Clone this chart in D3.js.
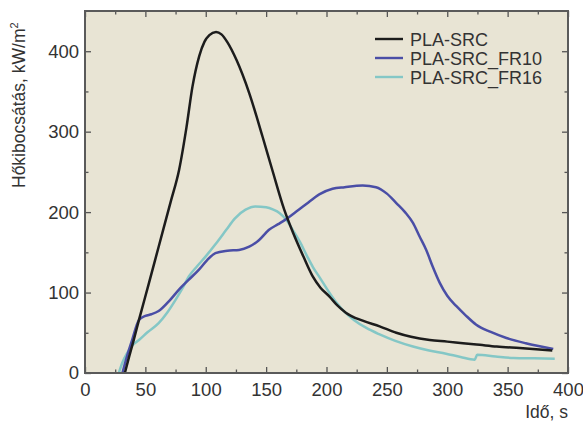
<!DOCTYPE html>
<html><head><meta charset="utf-8">
<script src="https://cdn.jsdelivr.net/npm/d3@7"></script>
<style>body{margin:0;background:#fff;}svg{display:block;font-family:"Liberation Sans",Arial,sans-serif;}</style>
</head><body><svg id="c" width="583" height="424"></svg>
<script>
const seriesNames = ["PLA-SRC", "PLA-SRC_FR10", "PLA-SRC_FR16"];
const seriesColors = ["#1c1c1c", "#4a4ea6", "#84c7c6"];
const xTicks = [0, 50, 100, 150, 200, 250, 300, 350, 400];
const yTicks = [0, 100, 200, 300, 400];
const srcX = [33, 36.5, 40, 44.7, 53, 61, 71, 78, 84, 89, 94.6, 99, 103, 108.5, 113, 118, 125.5, 136, 147, 155, 165, 172.4, 180.8, 188.6, 195, 202.5, 209, 216, 230, 244, 257.8, 270, 285.5, 300, 313, 327, 341, 360, 387];
const srcY = [0, 20, 39, 66, 112, 157, 213, 253, 305, 356, 394, 412, 420, 424, 421, 411, 389, 348, 294, 253, 203, 174, 145, 120, 106, 95, 84, 75, 65, 58, 50, 45, 41, 39, 37, 35, 33, 31, 28];
const fr10X = [31, 35, 39, 44.7, 50, 55, 61, 70, 78, 86, 94.4, 101, 108, 118, 127.6, 136, 144, 152.4, 160, 166, 177, 185, 194, 205, 215, 230, 241, 250, 258, 265, 271.6, 277, 282.6, 288, 293.8, 300, 307.6, 315, 324, 336, 349, 365, 387.8];
const fr10Y = [0, 22, 41, 66, 71, 73, 77, 90, 104, 116, 128.5, 140, 149, 152, 153, 157, 165, 178, 185, 190.7, 203, 212, 222, 229, 231, 233, 231, 223, 211, 200, 186.6, 170, 153, 132, 112, 96, 83, 72, 60, 51, 43.5, 37, 30];
const fr16X = [28, 31, 35, 39, 44.7, 52, 61, 68, 75, 81, 86, 93, 100, 108, 117, 124, 133, 141, 150, 156, 161, 167, 172, 178, 184, 189, 194.7, 201, 208.5, 215, 222.7, 233, 244, 257, 271.6, 285, 299, 311, 322.8, 324.8, 340, 355, 372, 389];
const fr16Y = [0, 13, 25, 34, 41, 51, 62, 75, 91, 106, 120, 133, 145, 160, 178, 192, 203, 207, 206, 203, 199, 190, 178, 163, 145, 131, 118, 103, 87, 76, 66, 56, 48, 40, 33, 28, 24, 20, 16.6, 22.8, 20.5, 18.6, 18.2, 17.8];

const svg = d3.select("#c");
const L = 85, R = 568, T = 11, B = 373;
const x = d3.scaleLinear().domain([0, 400]).range([L, R]);
const y = d3.scaleLinear().domain([0, 450]).range([B, T]);
const textCol = "#333";

svg.append("rect").attr("x", L).attr("y", T).attr("width", R - L).attr("height", B - T).attr("fill", "#e8e4d4");

const axisStyle = g => {
  g.select(".domain").remove();
  g.selectAll("line").attr("stroke", "#555").attr("stroke-width", 1.3);
  g.selectAll("text").attr("fill", textCol).style("font-size", "18.5px");
};
const minorX = d3.range(25, 400, 50);
const minorY = d3.range(50, 450, 100);

svg.append("g").attr("transform", `translate(0,${B})`)
  .call(d3.axisBottom(x).tickValues(xTicks).tickSize(-6).tickPadding(10).tickFormat(d3.format("d")))
  .call(axisStyle);
svg.append("g").attr("transform", `translate(0,${B})`)
  .call(d3.axisBottom(x).tickValues(minorX).tickSize(-3.5).tickFormat(""))
  .call(axisStyle);
svg.append("g").attr("transform", `translate(0,${T})`)
  .call(d3.axisTop(x).tickValues(xTicks).tickSize(-6).tickFormat(""))
  .call(axisStyle);
svg.append("g").attr("transform", `translate(0,${T})`)
  .call(d3.axisTop(x).tickValues(minorX).tickSize(-3.5).tickFormat(""))
  .call(axisStyle);
svg.append("g").attr("transform", `translate(${L},0)`)
  .call(d3.axisLeft(y).tickValues(yTicks).tickSize(-6).tickPadding(6).tickFormat(d3.format("d")))
  .call(axisStyle);
svg.append("g").attr("transform", `translate(${L},0)`)
  .call(d3.axisLeft(y).tickValues(minorY).tickSize(-3.5).tickFormat(""))
  .call(axisStyle);
svg.append("g").attr("transform", `translate(${R},0)`)
  .call(d3.axisRight(y).tickValues(yTicks).tickSize(-6).tickFormat(""))
  .call(axisStyle);
svg.append("g").attr("transform", `translate(${R},0)`)
  .call(d3.axisRight(y).tickValues(minorY).tickSize(-3.5).tickFormat(""))
  .call(axisStyle);

const line = d3.line().x(d => x(d[0])).y(d => y(d[1])).curve(d3.curveMonotoneX);
const data = [d3.zip(srcX, srcY), d3.zip(fr10X, fr10Y), d3.zip(fr16X, fr16Y)];
svg.append("clipPath").attr("id", "pc").append("rect").attr("x", L).attr("y", T).attr("width", R - L).attr("height", B - T);
[2, 1, 0].forEach(i => {
  svg.append("path").datum(data[i]).attr("d", line).attr("fill", "none")
    .attr("stroke", seriesColors[i]).attr("stroke-width", 2.5).attr("clip-path", "url(#pc)");
});

svg.append("rect").attr("x", L).attr("y", T).attr("width", R - L).attr("height", B - T)
  .attr("fill", "none").attr("stroke", "#5a5a5a").attr("stroke-width", 2);

const lg = svg.append("g");
seriesNames.forEach((n, i) => {
  const yy = 39 + i * 19;
  lg.append("line").attr("x1", 375).attr("x2", 403).attr("y1", yy).attr("y2", yy)
    .attr("stroke", seriesColors[i]).attr("stroke-width", 2.4);
  lg.append("text").attr("x", 410).attr("y", yy + 6.5).text(n).attr("fill", textCol).style("font-size", "18px");
});

svg.append("text").attr("x", 568).attr("y", 418).attr("text-anchor", "end").attr("fill", textCol)
  .style("font-size", "17.5px").text("Idő, s");
const yl = svg.append("text").attr("transform", "translate(25,188) rotate(-90)").attr("fill", textCol)
  .style("font-size", "17.5px");
yl.append("tspan").text("Hőkibocsátás, kW/m");
yl.append("tspan").text("2").attr("dy", -7).style("font-size", "11px");
</script></body></html>
